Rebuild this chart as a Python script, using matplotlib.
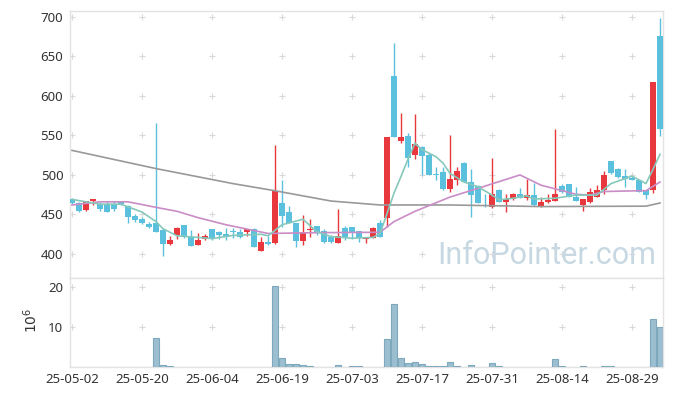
import numpy as np
import matplotlib.pyplot as plt

plt.rcParams['font.family'] = ['Noto Sans', 'DejaVu Sans']

# daily candles, 25-05-02 .. 25-09-04 (one entry per trading day)
opens = [469.5, 464, 456, 467, 463, 462, 462, 465.5, 460.5, 448,
         444, 438, 439, 430, 412.5, 424.5, 437, 421, 412, 419.5,
         431.5, 428, 425, 429.5, 428, 428, 431.5, 404, 415, 413.5,
         464.5, 453, 439, 417, 430, 435, 429, 421, 414.5, 432.5,
         434, 428.5, 419.5, 420.5, 439, 445, 625, 543.5, 549, 525.5,
         535.5, 525, 501.5, 504, 482, 493, 515, 491.5, 486, 462,
         460, 481.5, 466, 469, 476.5, 471, 475, 460, 465.5, 467.5,
         486, 488.5, 472.5, 462.5, 465.5, 472.5, 481, 517.5, 508, 498,
         495.5, 493.5, 480.5, 481, 675.5]
highs = [470.5, 466, 467.5, 470, 466, 466.5, 466.5, 467, 461.5, 450.5,
         447, 440.5, 565, 432.5, 423, 434, 437, 430, 426, 425,
         432, 428.5, 432.5, 433, 432, 432, 433.5, 421, 423, 538,
         494, 461, 439.5, 449, 444, 435.5, 431, 424.5, 457, 436,
         434.5, 429, 422, 434.5, 443, 548, 666.5, 578, 553.5, 576.5,
         537, 528, 510, 510, 551, 509.5, 516, 508, 487, 476.5,
         522, 482, 476.5, 477, 483, 495, 490, 471.5, 476, 557.5,
         488, 489, 484.5, 469.5, 483, 487, 504.5, 518, 509, 508,
         498.5, 494, 481, 617.5, 698]
lows = [463, 453, 454, 462, 455, 453, 455, 461.5, 439, 441,
        438, 433.5, 427.5, 397, 412, 419, 420, 410, 411, 418,
        418, 419.5, 417.5, 420, 420, 423, 409, 403.5, 411.5, 413,
        434.5, 439, 409.5, 412, 421, 424, 414, 414, 414, 417.5,
        419.5, 415, 413.5, 420, 421, 434.5, 548, 540.5, 510.5, 520.5,
        500, 500, 494, 481, 478, 487, 491, 447, 464, 459.5,
        458, 465.5, 453, 468.5, 470.5, 468.5, 460.5, 459.5, 465, 467,
        477.5, 471.5, 467, 454.5, 465, 472, 476.5, 501.5, 496.5, 485,
        493, 478, 469, 477.5, 549]
closes = [464, 454, 467, 469, 457, 453.5, 457, 463, 447, 443.5,
          439.5, 434.5, 428, 412.5, 418, 433.5, 422, 410.5, 418, 423,
          418.5, 423.5, 423, 428, 421, 431.5, 409.5, 415, 412.5, 480,
          448, 439.5, 416, 428, 432, 427.5, 415, 415, 422.5, 421.5,
          428, 420, 421.5, 432.5, 421.5, 548, 548.5, 547.5, 521, 539,
          524.5, 500.5, 500.5, 482, 495, 505, 491.5, 474, 465, 460.5,
          476, 466, 469, 476.5, 471, 474, 461.5, 465.5, 468.5, 476,
          478, 472, 467.5, 469, 478.5, 481, 500, 502, 497, 495,
          493.5, 478.5, 475, 617.5, 558]
# volume, millions of shares
volumes = [0.1, 0.1, 0.1, 0.1, 0.1, 0.1, 0.1, 0.1, 0.1, 0.1,
           0.1, 0.1, 7.25, 0.5, 0.25, 0.1, 0.1, 0.1, 0.1, 0.1,
           0.1, 0.1, 0.1, 0.1, 0.1, 0.1, 0.1, 0.1, 0.1, 20.3,
           2.25, 0.75, 0.75, 0.5, 0.3, 0.1, 0.1, 0.1, 0.5, 0.1,
           0.3, 0.3, 0.1, 0.1, 0.1, 7.0, 15.75, 2.25, 1.0, 1.25,
           0.75, 0.3, 0.3, 0.3, 1.25, 0.3, 0.1, 0.5, 0.1, 0.1,
           1.0, 0.3, 0.1, 0.1, 0.1, 0.1, 0.1, 0.1, 0.1, 2.0,
           0.3, 0.1, 0.1, 0.3, 0.1, 0.1, 0.3, 0.3, 0.1, 0.1,
           0.1, 0.1, 0.1, 12.0, 10.0]

tick_labels = ['25-05-02', '25-05-20', '25-06-04', '25-06-19', '25-07-03',
               '25-07-17', '25-07-31', '25-08-14', '25-08-29']

# moving average lines: (day index, price)
ma5_x = [0, 4, 7, 10, 12, 13, 15, 18, 20, 23, 27, 28, 30, 33, 35, 37, 40, 43, 44,
         45, 46, 47, 48, 49, 50, 52, 53, 54, 56, 58, 60, 61, 63, 65, 66, 69, 72,
         75, 77, 80, 82, 83, 84]
ma5_y = [469, 463, 463, 453, 441, 432, 423, 421, 419.5, 423.5, 425, 423, 437, 444,
         428, 422, 420, 421, 426, 451, 477, 498, 520, 540, 532, 523, 515, 502, 491,
         485, 474.5, 468.5, 470.5, 473.5, 469.5, 470.5, 474.5, 474.5, 489, 498.5,
         489, 507, 526]
ma20_x = [0, 4, 8, 12, 15, 18, 22, 28, 35, 44, 46, 49, 54, 58, 64, 67, 72, 74, 76,
          81, 82, 84]
ma20_y = [462, 466, 466, 459, 454, 446, 437, 426, 427, 427.5, 441, 454, 472, 483,
          500, 487, 475.5, 474.5, 479, 480, 480, 491]
ma60_x = [0, 12, 23, 29, 37, 44, 54, 67, 82, 83, 84]
ma60_y = [531, 508, 489, 480, 467, 462, 462, 460, 460.5, 462.5, 464.5]

up_color = '#e8383d'
down_color = '#5bc0de'
grid_color = '#d9d9d9'
spine_color = '#e3e3e3'
text_color = '#333333'

fig = plt.figure(figsize=(6.73, 3.96), dpi=100)
ax = fig.add_axes([0.1033, 0.298, 0.8818, 0.675])
axv = fig.add_axes([0.1033, 0.0725, 0.8818, 0.2247], sharex=ax)

idx = np.arange(len(closes))

# candles
for i in idx:
    o, h, l, c = opens[i], highs[i], lows[i], closes[i]
    col = up_color if c >= o else down_color
    ax.vlines(i, l, h, color=col, lw=1.0, zorder=2)
    ax.bar(i, max(abs(c - o), 0.9), bottom=min(o, c), width=0.74,
           color=col, zorder=3)

# moving averages
ax.plot(ma60_x, ma60_y, color='#999999', lw=1.2, zorder=4)
ax.plot(ma20_x, ma20_y, color='#c98cc6', lw=1.2, zorder=4)
ax.plot(ma5_x, ma5_y, color='#86c9bb', lw=1.2, zorder=5)

# volume
axv.bar(idx, volumes, width=0.95, color='#9bbfd0', edgecolor='#7ea8bc',
        linewidth=0.8, zorder=3)

# "+" grid marks
gx = np.arange(0, 81, 10)
for a, ys in ((ax, np.arange(400, 701, 50)), (axv, [10, 20])):
    X, Y = np.meshgrid(gx, ys)
    a.plot(X.ravel(), Y.ravel(), '+', color=grid_color, ms=4, mew=0.8, zorder=0)

ax.set_xlim(-0.36, 84.43)
ax.set_ylim(369.7, 707.6)
axv.set_ylim(0, 22.25)

ax.set_yticks(np.arange(400, 701, 50))
axv.set_yticks([10, 20])
axv.set_xticks(gx)
axv.set_xticklabels(tick_labels)
ax.tick_params(axis='x', labelbottom=False, length=0)
for a in (ax, axv):
    a.tick_params(axis='both', length=0, labelsize=9.5, labelcolor=text_color, pad=4.5)
    for s in a.spines.values():
        s.set_color(spine_color)
        s.set_linewidth(1.0)
axv.tick_params(axis='x', pad=4)

fig.text(0.047, 0.192, r'$10^6$', rotation=90, ha='center', va='center',
         fontsize=10, color=text_color)

# watermark
ax.text(0.813, 0.356, 'InfoPointer.com', transform=fig.transFigure,
        ha='center', va='center', fontsize=22, family='Roboto',
        color='#c7d8e2', zorder=1)

fig.savefig('out.png', dpi=100)
